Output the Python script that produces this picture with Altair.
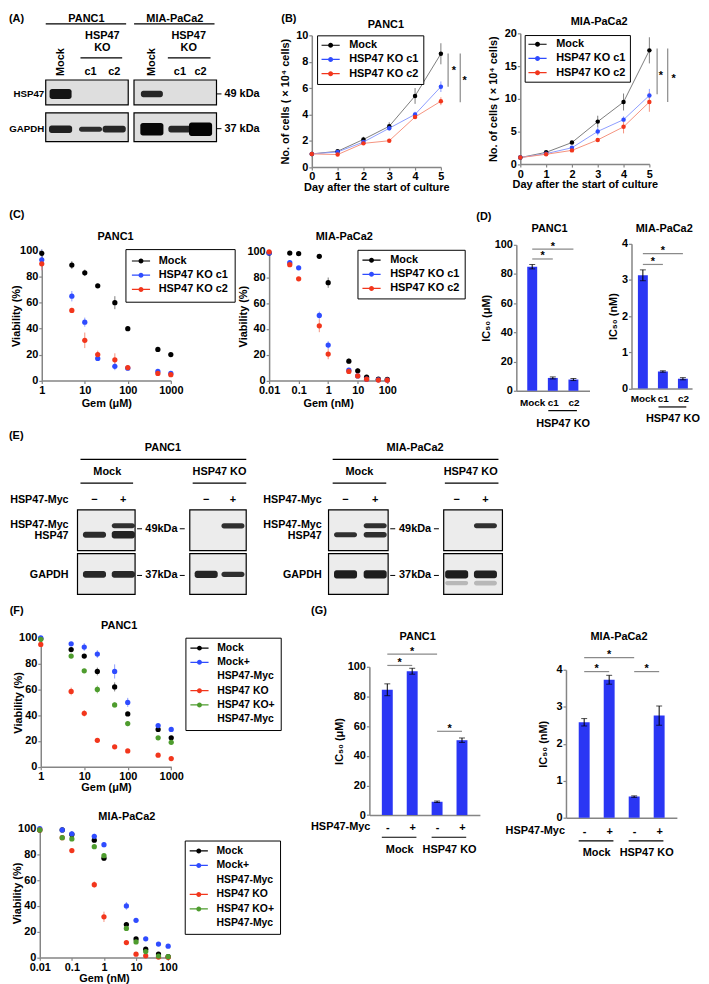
import altair as alt
import pandas as pd

# ======================= DATA =======================
# (A) western blot, band signal per lane (0 = no band)
a_cells = ["PANC1", "MIA-PaCa2"]
a_lanes = ["Mock", "c1", "c2", "Mock", "c1", "c2"]
a_hsp47 = [0.64, 0.0, 0.0, 0.33, 0.0, 0.0]
a_gapdh = [0.42, 0.18, 0.33, 0.87, 0.33, 0.96]

# (B) growth curves
days = [0, 1, 2, 3, 4, 5]
grow_names = ["Mock", "HSP47 KO c1", "HSP47 KO c2"]
panc_grow_mock = [1.0, 1.2, 2.1, 3.1, 5.4, 8.6]
panc_grow_mock_sd = [0.05, 0.1, 0.2, 0.3, 0.6, 0.8]
panc_grow_c1 = [1.0, 1.15, 1.9, 2.95, 4.0, 6.1]
panc_grow_c1_sd = [0.05, 0.1, 0.15, 0.15, 0.2, 0.4]
panc_grow_c2 = [1.0, 0.95, 1.8, 2.0, 3.8, 5.0]
panc_grow_c2_sd = [0.05, 0.1, 0.1, 0.1, 0.15, 0.3]
mia_grow_mock = [1.0, 1.8, 3.3, 6.5, 9.5, 17.4]
mia_grow_mock_sd = [0.1, 0.15, 0.25, 0.9, 1.3, 2.0]
mia_grow_c1 = [1.0, 1.6, 2.5, 5.0, 6.8, 10.5]
mia_grow_c1_sd = [0.1, 0.1, 0.2, 0.6, 0.5, 1.0]
mia_grow_c2 = [1.0, 1.5, 2.1, 3.7, 5.7, 9.5]
mia_grow_c2_sd = [0.1, 0.1, 0.2, 0.2, 1.0, 1.5]
panc_grow_sig = [(5.28, 8.62, 6.1), (5.75, 8.62, 4.93)]
panc_grow_star = [(5.5, 7.49), (5.92, 6.74)]
mia_grow_sig = [(5.3, 17.7, 10.7), (5.71, 17.7, 9.5)]
mia_grow_star = [(5.45, 13.8), (5.94, 13.4)]

# (C) viability
gem_um = [1, 5, 10, 20, 50, 100, 500, 1000]
gem_nm = [0.01, 0.05, 0.1, 0.5, 1, 5, 10, 20, 50, 100]
c_panc_mock = [98, 89, 83, 73, 60, 40, 24, 20]
c_panc_mock_sd = [3, 3, 2.5, 1.5, 5, 1.5, 1, 1]
c_panc_c1 = [93, 65, 45, 17, 11, 9.5, 7, 5.5]
c_panc_c1_sd = [8, 4, 3.5, 1.5, 3, 1.5, 1.5, 1.5]
c_panc_c2 = [90, 54, 31, 20, 16, 10, 5.5, 4.5]
c_panc_c2_sd = [5, 2, 6, 3, 5, 1, 1, 1]
c_mia_mock = [99, 99, 98.5, 96.5, 76, 15, 7.5, 2.5, 1, 0.8]
c_mia_mock_sd = [0.5, 0.5, 0.5, 1, 4, 2, 2, 0.5, 0.3, 0.3]
c_mia_c1 = [99, 91.5, 87.5, 50.5, 27.5, 8, 3.5, 1, 0.5, 0.3]
c_mia_c1_sd = [0.5, 1.5, 1, 3, 3, 1, 1, 0.3, 0.2, 0.2]
c_mia_c2 = [100, 90, 79, 42.5, 20.5, 7, 3.5, 1, 0.3, 0.2]
c_mia_c2_sd = [0.5, 1, 1, 5, 4, 1, 0.5, 0.3, 0.2, 0.2]

# (D) IC50
d_groups = ["Mock", "c1", "c2"]
d_panc = [85, 8.8, 7.7]
d_panc_sd = [1.5, 0.7, 0.7]
d_mia = [3.13, 0.47, 0.27]
d_mia_sd = [0.15, 0.02, 0.03]
d_panc_sig = [(0, 1, 90.3), (0, 2, 97)]
d_mia_sig = [(0, 1, 3.43), (0, 2, 3.73)]

# (E) rescue blot, band signal per lane
e_myc = ["−", "+", "−", "+", "−", "+", "−", "+"]
e_hsp47 = [0.27, 0.42, 0, 0, 0.18, 0.22, 0, 0]
e_hsp47myc = [0, 0.18, 0, 0.2, 0, 0.18, 0, 0.18]
e_gapdh = [0.33, 0.33, 0.38, 0.22, 0.5, 0.5, 0.5, 0.45]
e_gapdh_low = [0, 0, 0, 0, 0, 0, 0.1, 0.15]

# (F) rescue viability
f_names = ["Mock", "Mock+", "HSP47 KO", "HSP47 KO+"]
f_panc_mock = [99.5, 91, 86, 74, 62, 41, 29, 22.5]
f_panc_mock_sd = [1, 1, 1.5, 3, 3.5, 1.5, 1.5, 1.5]
f_panc_mockmyc = [100, 95.5, 93, 87.5, 74, 50, 32, 29]
f_panc_mockmyc_sd = [1, 1, 3, 3, 5.5, 3.5, 1.5, 1]
f_panc_ko = [95, 58.5, 41.5, 20.5, 15.5, 12.3, 9, 6.4]
f_panc_ko_sd = [1, 3, 2.5, 1, 1, 1, 1, 0.5]
f_panc_komyc = [99, 86, 74.5, 60, 48, 33.5, 22.5, 19]
f_panc_komyc_sd = [1, 1, 1, 3, 2, 2, 1, 1]
f_mia_mock = [99, 99, 95.5, 91, 77, 25.5, 14.3, 6.4, 2.6, 0.5]
f_mia_mock_sd = [0.5, 0.5, 1.5, 1, 2, 2, 1.5, 1.5, 0.5, 0.3]
f_mia_mockmyc = [100, 99, 96, 94, 87.5, 40, 28.8, 14.4, 10.3, 8.7]
f_mia_mockmyc_sd = [0.5, 0.5, 2, 2, 2, 3, 1.5, 1, 1, 0.5]
f_mia_ko = [99, 93, 83, 56.5, 31.5, 11.5, 2.5, 1.2, 0.3, 0.1]
f_mia_ko_sd = [0.5, 1, 1, 2.5, 4, 1, 0.5, 0.3, 0.2, 0.1]
f_mia_komyc = [99, 93, 92, 86, 79, 22.5, 12, 4.5, 1, 0.5]
f_mia_komyc_sd = [0.5, 1, 1.5, 1, 1.5, 1.5, 1, 0.5, 0.3, 0.2]

# (G) rescue IC50
g_myc = ["-", "+", "-", "+"]
g_groups = [("Mock", 0, 1), ("HSP47 KO", 2, 3)]
g_panc = [84.5, 97, 9, 50.5]
g_panc_sd = [4, 2, 0.5, 1.5]
g_mia = [2.58, 3.73, 0.57, 2.76]
g_mia_sd = [0.1, 0.12, 0.02, 0.26]
g_panc_sig = [(0, 1, 100.9), (0, 2, 108.5), (2, 3, 56.5)]
g_mia_sig = [(0, 1, 3.95), (0, 2, 4.33), (2, 3, 3.95)]

# ======================= STYLE =======================
FONT = "Liberation Sans"
PAGE = 8.0
BLACK, BLUE, RED, GREEN = "#000000", "#2f4cff", "#f2361c", "#4e9c2e"
LBLACK, LBLUE, LRED, LGREEN = "#7d7d7d", "#8d9dff", "#f5937f", "#9bcb89"
CLEAR = "rgba(0,0,0,0)"
BARBLUE = "#2a36f4"
AXC = "#858585"
SIGC = "#8a8a8a"
# legend glyph: a short line with a dot, drawn wider than its 11px layout cell
SYM_SIZE = 121          # layout cell 11 px
SYM_SHIFT = 3.65        # re-centre the 18.3 px glyph inside the legend
LEG_PATH = ("M-1.664,-0.11L1.664,-0.11L1.664,0.11L-1.664,0.11Z"
            "M0.455,0A0.455,0.455,0,1,1,-0.455,0A0.455,0.455,0,1,1,0.455,0Z")


def note(text, px, py, align="center", baseline="middle", size=11, angle=0):
    mk = dict(align=align, baseline=baseline, font=FONT, fontWeight="bold",
              fontSize=size, color=BLACK)
    if angle:
        mk["angle"] = angle
    return (alt.Chart(pd.DataFrame({"t": [text]})).mark_text(**mk)
            .encode(x=alt.value(px), y=alt.value(py), text="t:N"))


def hline(x1, x2, y, width=1.2, color=BLACK):
    return (alt.Chart(pd.DataFrame({"v": [0]})).mark_rule(color=color, strokeWidth=width)
            .encode(x=alt.value(x1), x2=alt.value(x2), y=alt.value(y)))


def mk_notes(specs, ox, oy):
    """specs in page (reference) pixels -> layers relative to the plot origin."""
    out = []
    for s in specs:
        if s[0] == "rule":
            _, x1, x2, y, wd = s
            out.append(hline(x1 - ox, x2 - ox, y - oy, wd))
        else:
            text, x, y, kw = s
            out.append(note(text, x - ox, y - oy, **kw))
    return out


def spacer(w, h):
    return (alt.Chart(pd.DataFrame({"v": [0]}))
            .mark_point(opacity=0, size=0, strokeWidth=0)
            .encode(x=alt.value(0), y=alt.value(0))
            .properties(width=max(w, 0.1), height=max(h, 0.1)))


def legend_props(lx, ly, pad, rowpad, loff, fsize=11):
    return dict(title=None, orient="none", legendX=lx, legendY=ly,
                symbolType=LEG_PATH, symbolSize=SYM_SIZE, symbolStrokeWidth=0,
                symbolOffset=SYM_SHIFT, symbolOpacity=1,
                labelFont=FONT, labelFontWeight="bold",
                labelFontSize=fsize, labelColor=BLACK, labelLimit=300,
                padding=pad, rowPadding=rowpad, columnPadding=0,
                labelOffset=loff + 2 * SYM_SHIFT,
                strokeColor=BLACK, fillColor="white", cornerRadius=0)


def curve_panel(xvals, names, vals, sds, lcols, xs, xa, ydom, yvals, ytitle, ytp,
                x_left, top, h, w, leg_domain, leg_range, leg_box, leg_kw,
                psize=24, lines=False, sig=None, stars=None, notes=()):
    ys = alt.Scale(domain=ydom, nice=False, zero=False)
    ya = alt.Axis(values=yvals, title=ytitle, titlePadding=ytp, format="d",
                  labelFlush=False, labelOverlap=False)
    rows = []
    for n, v, s in zip(names, vals, sds):
        for xi, vi, si in zip(xvals, v, s):
            rows.append({"x": xi, "y": vi, "lo": vi - si, "hi": vi + si,
                         "series": n, "line": n})
    df = pd.DataFrame(rows)
    base = alt.Chart(df)
    X = alt.X("x:Q", scale=xs, axis=xa)
    # reversed domain order keeps this (legend-less) scale apart from the colour legend
    stroke = alt.Stroke("line:N", scale=alt.Scale(domain=names[::-1], range=lcols[::-1]),
                        legend=None)
    layers = [base.mark_rule(strokeWidth=1).encode(
        x=X, y=alt.Y("lo:Q", scale=ys, axis=ya), y2="hi:Q", stroke=stroke)]
    if lines:
        layers.append(base.mark_line(strokeWidth=1).encode(
            x=X, y=alt.Y("y:Q", scale=ys, axis=ya), stroke=stroke))
    if sig:
        sdf = pd.DataFrame(sig, columns=["x", "y1", "y2"])
        layers.append(alt.Chart(sdf).mark_rule(color=SIGC, strokeWidth=1.2).encode(
            x=alt.X("x:Q", scale=xs, axis=xa), y=alt.Y("y1:Q", scale=ys, axis=ya), y2="y2:Q"))
    if stars:
        tdf = pd.DataFrame(stars, columns=["x", "y"])
        layers.append(alt.Chart(tdf).mark_text(
            text="*", font=FONT, fontWeight="bold", fontSize=11, dy=2.4, color=BLACK).encode(
            x=alt.X("x:Q", scale=xs, axis=xa), y=alt.Y("y:Q", scale=ys, axis=ya)))
    leg = legend_props(leg_box[0] - x_left, leg_box[1] - top, *leg_kw)
    layers.append(base.mark_point(filled=True, size=psize, opacity=1).encode(
        x=X, y=alt.Y("y:Q", scale=ys, axis=ya),
        color=alt.Color("series:N", scale=alt.Scale(domain=leg_domain, range=leg_range),
                        legend=alt.Legend(**leg))))
    layers.extend(mk_notes(notes, x_left, top))
    return alt.layer(*layers).properties(width=w, height=h)


def bar_panel(labels, vals, sds, xdom, ydom, yvals, ytitle, ytp, x_left, top, h, w,
              lab_pad, lab_size, barw, sig, groups, g_line_y, g_text_y, notes=()):
    ys = alt.Scale(domain=ydom, nice=False, zero=False)
    ya = alt.Axis(values=yvals, title=ytitle, titlePadding=ytp, format="d",
                  labelFlush=False, labelOverlap=False)
    n = len(labels)
    df = pd.DataFrame({"i": list(range(n)), "v": vals,
                       "lo": [v - s for v, s in zip(vals, sds)],
                       "hi": [v + s for v, s in zip(vals, sds)]})
    xs = alt.Scale(domain=xdom, nice=False, zero=False)
    expr = "[" + ",".join("'" + l + "'" for l in labels) + "][datum.value]"
    xa = alt.Axis(values=list(range(n)), labelExpr=expr, ticks=False, title=None,
                  labelPadding=lab_pad, labelFontSize=lab_size, labelFlush=False,
                  labelOverlap=False)
    base = alt.Chart(df)
    X = alt.X("i:Q", scale=xs, axis=xa)
    layers = [
        base.mark_bar(size=barw, color=BARBLUE).encode(
            x=X, y=alt.Y("v:Q", scale=ys, axis=ya), y2=alt.datum(0)),
        base.mark_rule(color=BLACK, strokeWidth=1).encode(
            x=X, y=alt.Y("lo:Q", scale=ys, axis=ya), y2="hi:Q"),
        base.mark_tick(orient="horizontal", size=6, thickness=1, color=BLACK).encode(
            x=X, y=alt.Y("lo:Q", scale=ys, axis=ya)),
        base.mark_tick(orient="horizontal", size=6, thickness=1, color=BLACK).encode(
            x=X, y=alt.Y("hi:Q", scale=ys, axis=ya)),
    ]
    sdf = pd.DataFrame(sig, columns=["a", "b", "v"])
    layers.append(alt.Chart(sdf).mark_rule(color=SIGC, strokeWidth=1.2).encode(
        x=alt.X("a:Q", scale=xs, axis=xa), x2="b:Q", y=alt.Y("v:Q", scale=ys, axis=ya)))
    layers.append(alt.Chart(sdf).transform_calculate(m="(datum.a + datum.b) / 2").mark_text(
        text="*", font=FONT, fontWeight="bold", fontSize=11, dy=-2.5, color=BLACK).encode(
        x=alt.X("m:Q", scale=xs, axis=xa), y=alt.Y("v:Q", scale=ys, axis=ya)))
    gdf = pd.DataFrame(groups, columns=["name", "a", "b"])
    layers.append(alt.Chart(gdf).transform_calculate(
        x1="datum.a - 0.22", x2="datum.b + 0.17").mark_rule(color=BLACK, strokeWidth=1.2).encode(
        x=alt.X("x1:Q", scale=xs, axis=xa), x2="x2:Q", y=alt.value(g_line_y - top)))
    layers.append(alt.Chart(gdf).transform_calculate(m="(datum.a + datum.b) / 2").mark_text(
        font=FONT, fontWeight="bold", fontSize=11, color=BLACK, baseline="middle").encode(
        x=alt.X("m:Q", scale=xs, axis=xa), y=alt.value(g_text_y - top), text="name:N"))
    layers.extend(mk_notes(notes, x_left, top))
    return alt.layer(*layers).properties(width=w, height=h)


def blot_panel(lane_pos, lane_dom, row_dom, w, h, boxes, bands, lane_text, bg, notes, ox, oy):
    xs = alt.Scale(domain=lane_dom, nice=False, zero=False)
    ys = alt.Scale(domain=row_dom, nice=False, zero=False, reverse=True)
    bdf = pd.DataFrame(boxes, columns=["x1", "x2", "y1", "y2"])
    layers = [alt.Chart(bdf).mark_rect(fill=bg, stroke=BLACK, strokeWidth=1.2).encode(
        x=alt.X("x1:Q", scale=xs, axis=None), x2="x2:Q",
        y=alt.Y("y1:Q", scale=ys, axis=None), y2="y2:Q")]
    ndf = pd.DataFrame(bands, columns=["x1", "x2", "y1", "y2", "op"])
    layers.append(alt.Chart(ndf).mark_rect(color=BLACK, cornerRadius=2.5).encode(
        x=alt.X("x1:Q", scale=xs, axis=None), x2="x2:Q",
        y=alt.Y("y1:Q", scale=ys, axis=None), y2="y2:Q",
        opacity=alt.Opacity("op:Q", scale=None)))
    for labels, py, angle in lane_text:
        tdf = pd.DataFrame({"lane": lane_pos, "t": labels})
        tdf = tdf[tdf["t"] != ""]
        mk = dict(font=FONT, fontWeight="bold", fontSize=11, color=BLACK,
                  align="center", baseline="middle")
        if angle:
            mk["angle"] = angle
        layers.append(alt.Chart(tdf).mark_text(**mk).encode(
            x=alt.X("lane:Q", scale=xs, axis=None), y=alt.value(py - oy), text="t:N"))
    layers.extend(mk_notes(notes, ox, oy))
    return alt.layer(*layers).properties(width=w, height=h)


def band_rows(lane_pos, signals, row, px_per_row, half_w=0.4, faint=False):
    out = []
    for lp, s in zip(lane_pos, signals):
        if s <= 0:
            continue
        half = (1.5 + 5.5 * s) / px_per_row
        op = 0.22 if faint else 0.75 + 0.25 * s
        out.append((lp - half_w, lp + half_w, row - half, row + half, op))
    return out


L = dict(align="left")
R = dict(align="right")
C = {}

# ======================= PANEL A =======================
A_LANE = [0.04, 1.13, 1.99, 3.36, 4.38, 5.13]
A_PX = 35.0
a_boxes = []
for x1, x2 in [(-0.5, 2.5), (2.71, 5.71)]:
    a_boxes.append((x1, x2, -0.357, 0.357))
    a_boxes.append((x1, x2, 0.586, 1.414))
a_bands = band_rows(A_LANE, a_hsp47, 0.043, A_PX, 0.4) + band_rows(A_LANE, a_gapdh, 1.057, A_PX, 0.42)
a_notes = [
    ("(A)", 8, 8, dict(align="left", baseline="top")),
    (a_cells[0], 86, 8, dict(baseline="top")),
    (a_cells[1], 175, 8, dict(baseline="top")),
    ("rule", 45, 126, 18.5, 1.2), ("rule", 134, 215, 18.5, 1.2),
    ("HSP47", 102, 31, C), ("KO", 102, 43, C), ("HSP47", 189, 31, C), ("KO", 189, 43, C),
    ("rule", 80, 122, 52.7, 1.2), ("rule", 168, 211, 52.7, 1.2),
    ("HSP47", 43.5, 89, dict(align="right", size=9.8)),
    ("GAPDH", 43.5, 124, dict(align="right", size=9.8)),
    ("49 kDa", 225, 89, L), ("37 kDa", 225, 124, L),
    ("rule", 217, 222, 89, 1), ("rule", 217, 222, 124, 1),
]
a_lane_text = [([l if l == "Mock" else "" for l in a_lanes], 57, 270),
               ([l if l != "Mock" else "" for l in a_lanes], 67, 0)]
panel_a = blot_panel(A_LANE, [-0.5, 5.71], [-0.357, 1.414], 172.0, 62.0,
                     a_boxes, a_bands, a_lane_text, "#dedede", a_notes, 45, 75)

# ======================= PANEL B =======================
b_xa = alt.Axis(values=days, title="Day after the start of culture", titlePadding=0,
                format="d", labelFlush=False, labelOverlap=False)
panel_b1 = curve_panel(
    days, grow_names, [panc_grow_mock, panc_grow_c1, panc_grow_c2],
    [panc_grow_mock_sd, panc_grow_c1_sd, panc_grow_c2_sd], [LBLACK, LBLUE, LRED],
    alt.Scale(domain=[0, 5], nice=False, zero=False), b_xa,
    [0, 10], [0, 2, 4, 6, 8, 10], "No. of cells ( × 10⁴ cells)", 5,
    312.7, 30, 132.7, 130, grow_names, [BLACK, BLUE, RED], (318, 30), (4.5, 2.3, 5.9),
    psize=20, lines=True, sig=panc_grow_sig, stars=panc_grow_star,
    notes=[("PANC1", 387.3, 19.3, C), ("(B)", 282, 8, dict(align="left", baseline="top"))])
panel_b2 = curve_panel(
    days, grow_names, [mia_grow_mock, mia_grow_c1, mia_grow_c2],
    [mia_grow_mock_sd, mia_grow_c1_sd, mia_grow_c2_sd], [LBLACK, LBLUE, LRED],
    alt.Scale(domain=[0, 5], nice=False, zero=False), b_xa,
    [0, 20], [0, 5, 10, 15, 20], "No. of cells ( × 10⁴ cells)", 5.5,
    522.3, 28.3, 131.7, 130, grow_names, [BLACK, BLUE, RED], (526.7, 30), (3.8, 2.3, 6),
    psize=20, lines=True, sig=mia_grow_sig, stars=mia_grow_star,
    notes=[("MIA-PaCa2", 601.7, 17, C)])

# ======================= PANEL C =======================
pct_vals = [0, 20, 40, 60, 80, 100]
um_axis = lambda tp: alt.Axis(values=[1, 10, 100, 1000], format="~g", title="Gem (μM)",
                              titlePadding=tp, labelFlush=False, labelOverlap=False)
nm_axis = lambda tp: alt.Axis(values=[0.01, 0.1, 1, 10, 100], format="~g", title="Gem (nM)",
                              titlePadding=tp, labelFlush=False, labelOverlap=False)

panel_c1 = curve_panel(
    gem_um, grow_names, [c_panc_mock, c_panc_c1, c_panc_c2],
    [c_panc_mock_sd, c_panc_c1_sd, c_panc_c2_sd], [LBLACK, LBLUE, LRED],
    alt.Scale(type="log", domain=[1, 1000], nice=False), um_axis(1.8),
    [0, 100], pct_vals, "Viability (%)", -1.5,
    40.7, 246, 130.7, 130, grow_names, [BLACK, BLUE, RED], (125, 244.3), (6.5, 2.3, 5),
    psize=28, notes=[("PANC1", 115, 232.3, C), ("(C)", 8, 210, L)])
panel_c2 = curve_panel(
    gem_nm, grow_names, [c_mia_mock, c_mia_c1, c_mia_c2],
    [c_mia_mock_sd, c_mia_c1_sd, c_mia_c2_sd], [LBLACK, LBLUE, LRED],
    alt.Scale(type="log", domain=[0.01, 100], nice=False), nm_axis(1.8),
    [0, 100], pct_vals, "Viability (%)", -1.8,
    269.3, 246.7, 129.6, 119, grow_names, [BLACK, BLUE, RED], (358.3, 244.7), (5, 2.2, 6),
    psize=28, notes=[("MIA-PaCa2", 345, 232, C)])

# ======================= PANEL D =======================
panel_d1 = bar_panel(d_groups, d_panc, d_panc_sd, [-0.53, 2.54], [0, 100], pct_vals,
                     "IC₅₀ (μM)", 2.5, 518.3, 240.7, 147, 73.7, 6.8, 10, 10, d_panc_sig,
                     [("HSP47 KO", 1, 2)], 407.7, 421,
                     notes=[("PANC1", 551.7, 225, C), ("(D)", 478, 212.5, L)])
panel_d2 = bar_panel(d_groups, d_mia, d_mia_sd, [-0.32, 2.21], [0, 4], [0, 1, 2, 3, 4],
                     "IC₅₀ (nM)", 2.7, 635, 240, 145.7, 61, 5.5, 10, 10, d_mia_sig,
                     [("HSP47 KO", 1, 2)], 404.3, 416,
                     notes=[("MIA-PaCa2", 668, 225, C)])

# ======================= PANEL E =======================
E_LANE = [0.09, 1.09, 3.97, 4.9, 8.81, 9.84, 12.67, 13.67]
E_PX = 44.0
e_boxes = []
for x1, x2 in [(-0.5, 1.5), (3.4, 5.36), (8.22, 10.29), (12.22, 14.26)]:
    e_boxes.append((x1, x2, -0.466, 0.466))
    e_boxes.append((x1, x2, 0.534, 1.466))
e_bands = (band_rows(E_LANE, e_hsp47, 0.102, E_PX) + band_rows(E_LANE, e_hsp47myc, -0.102, E_PX)
           + band_rows(E_LANE, e_gapdh, 1.01, E_PX) + band_rows(E_LANE, e_gapdh_low, 1.21, E_PX, faint=True))
e_notes = [("(E)", 8, 432, L)]
for cx, x1, x2, cell in [(163, 80, 247, "PANC1"), (417, 334, 501, "MIA-PaCa2")]:
    e_notes += [(cell, cx, 444, C), ("rule", x1, x2, 455, 1.2)]
for cx, x1, x2, grp in [(107, 80, 133, "Mock"), (220, 193, 247, "HSP47 KO"),
                        (361, 334, 388, "Mock"), (473, 447, 501, "HSP47 KO")]:
    e_notes += [(grp, cx, 468, C), ("rule", x1, x2, 479, 1.2)]
for rx in [68, 323]:
    rk = dict(align="right", size=10.8)
    e_notes += [("HSP47-Myc", rx, 496, rk), ("HSP47-Myc", rx, 521, rk),
                ("HSP47", rx, 532, rk), ("GAPDH", rx, 572, rk)]
for cx, t1, t2 in [(161.5, (137, 142), (180, 185)), (417, (392, 397), (436, 441))]:
    e_notes += [("49kDa", cx, 525, C), ("37kDa", cx, 572, C),
                ("rule", t1[0], t1[1], 525, 1), ("rule", t2[0], t2[1], 525, 1),
                ("rule", t1[0], t1[1], 572, 1), ("rule", t2[0], t2[1], 572, 1)]
panel_e = blot_panel(E_LANE, [-0.5, 14.26], [-0.466, 1.466], 428.0, 85.0,
                     e_boxes, e_bands, [(e_myc, 496, 0)], "#ececec", e_notes, 77, 506)

# ======================= PANEL F =======================
f_leg_domain = ["Mock", "Mock+", "HSP47-Myc ", "HSP47 KO", "HSP47 KO+", "HSP47-Myc  "]
f_leg_range = [BLACK, BLUE, CLEAR, RED, GREEN, CLEAR]
panel_f1 = curve_panel(
    gem_um, f_names, [f_panc_mock, f_panc_mockmyc, f_panc_ko, f_panc_komyc],
    [f_panc_mock_sd, f_panc_mockmyc_sd, f_panc_ko_sd, f_panc_komyc_sd],
    [LBLACK, LBLUE, LRED, LGREEN],
    alt.Scale(type="log", domain=[1, 1000], nice=False), um_axis(-0.5),
    [0, 100], pct_vals, "Viability (%)", -4.5,
    39.3, 634.3, 129.7, 131.4, f_leg_domain, f_leg_range, (185, 634), (5, 3.3, 5, 10.5),
    psize=28, notes=[("PANC1", 118.3, 622.3, C), ("(F)", 8, 607, L)])
panel_f2 = curve_panel(
    gem_nm, f_names, [f_mia_mock, f_mia_mockmyc, f_mia_ko, f_mia_komyc],
    [f_mia_mock_sd, f_mia_mockmyc_sd, f_mia_ko_sd, f_mia_komyc_sd],
    [LBLACK, LBLUE, LRED, LGREEN],
    alt.Scale(type="log", domain=[0.01, 100], nice=False), nm_axis(0.5),
    [0, 100], pct_vals, "Viability (%)", -4.5,
    39, 826, 129.7, 129.3, f_leg_domain, f_leg_range, (185, 838), (5, 3.6, 5, 10.5),
    psize=28, notes=[("MIA-PaCa2", 126.7, 814, C)])

# ======================= PANEL G =======================
panel_g1 = bar_panel(g_myc, g_panc, g_panc_sd, [-0.52, 3.52], [0, 100], pct_vals,
                     "IC₅₀ (μM)", 2.9, 370.7, 663.3, 149.4, 111.3, 6.1, 11, 11,
                     g_panc_sig, g_groups, 835, 847.7,
                     notes=[("PANC1", 419.3, 633.3, C), ("(G)", 312, 607, L),
                            ("HSP47-Myc", 371.7, 824.3, R)])
panel_g2 = bar_panel(g_myc, g_mia, g_mia_sd, [-0.53, 3.51], [0, 4], [0, 1, 2, 3, 4],
                     "IC₅₀ (nM)", 7.5, 568.3, 666, 149, 111.7, 7.8, 11, 11,
                     g_mia_sig, g_groups, 838.3, 850.7,
                     notes=[("MIA-PaCa2", 621.7, 633.3, C),
                            ("HSP47-Myc", 567.3, 828.3, R)])

# ======================= LAYOUT =======================
# Flush layout: leaf views count with their own size, nested groups count as zero.
# Every panel sits in its own row group (spacer + panel); spacers between rows set y.
placements = [
    (panel_b2, 522.3, 28.3), (panel_b1, 312.7, 30), (panel_a, 45, 75),
    (panel_d2, 635, 240), (panel_d1, 518.3, 240.7), (panel_c1, 40.7, 246),
    (panel_c2, 269.3, 246.7), (panel_e, 77, 506), (panel_f1, 39.3, 634.3),
    (panel_g1, 370.7, 663.3), (panel_g2, 568.3, 666), (panel_f2, 39, 826),
]
stack, cur_y = [], PAGE
for ch, x, y in placements:
    dy = y - cur_y
    if dy > 0.05:
        stack.append(spacer(1, dy))
        cur_y = y
    row = (alt.hconcat(spacer(x - PAGE, 1), ch, spacing=0, bounds="flush")
           .resolve_scale(color="independent", stroke="independent")
           .resolve_legend(color="independent", stroke="independent"))
    stack.append(row)

chart = (alt.vconcat(*stack, spacing=0, bounds="flush")
         .resolve_scale(color="independent", stroke="independent")
         .resolve_legend(color="independent", stroke="independent")
         .properties(padding=0)
         .configure(font=FONT)
         .configure_view(stroke="transparent")
         .configure_axis(labelFont=FONT, labelFontWeight="bold", labelFontSize=11,
                         labelColor=BLACK, titleFont=FONT, titleFontWeight="bold",
                         titleFontSize=11, titleColor=BLACK, domainColor=AXC,
                         domainWidth=1.5, tickColor=AXC, tickWidth=1.2, tickSize=3,
                         labelPadding=1, grid=False))

chart.save("out.html", embed_options={"renderer": "svg", "actions": False})
